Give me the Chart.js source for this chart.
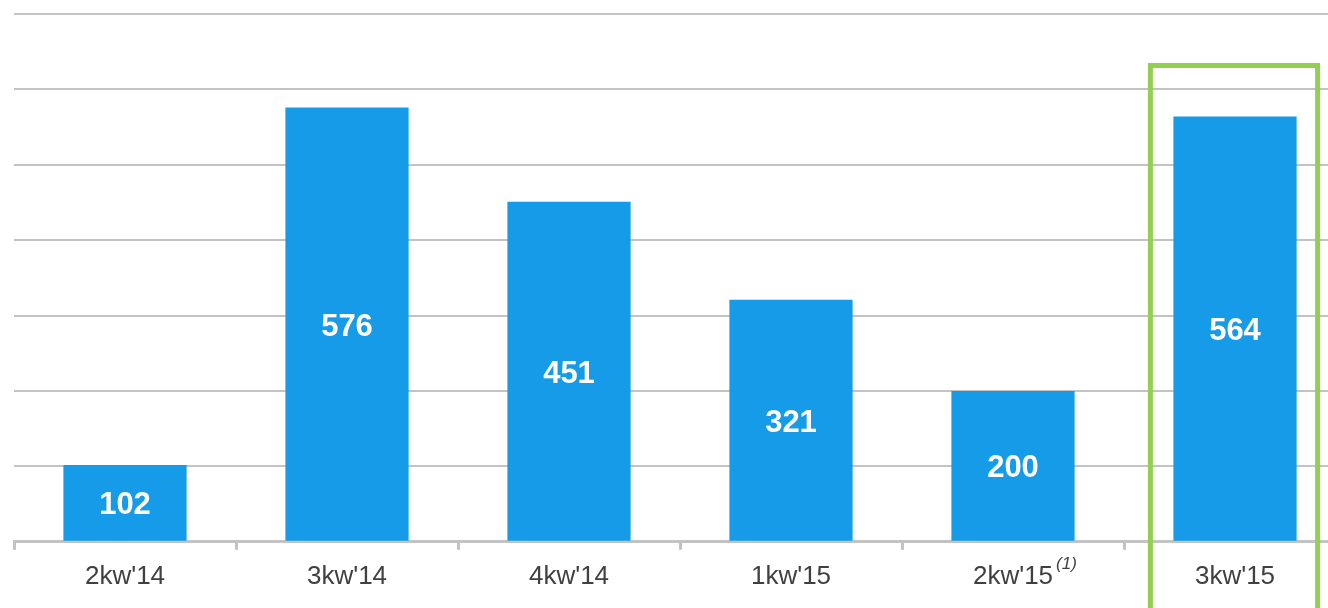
<!DOCTYPE html>
<html>
<head>
<meta charset="utf-8">
<script src="https://cdn.jsdelivr.net/npm/chart.js@4/dist/chart.umd.min.js"></script>
<style>
    html, body { margin: 0; padding: 0; background: #fff; overflow: hidden; }
    #wrap { position: relative; width: 1346px; height: 608px; }
</style>
</head>
<body>
<div id="wrap"><canvas id="chart"></canvas></div>
<script>
'use strict';

var quarters = ["2kw'14", "3kw'14", "4kw'14", "1kw'15", "2kw'15", "3kw'15"];
var values = [102, 576, 451, 321, 200, 564];
var footnotes = ['', '', '', '', '(1)', ''];
var highlightIndex = 5;
var highlightTop = 635;

var barColor = '#169be9';
var gridColor = '#c3c3c3';
var textColor = '#404040';
var boxColor = '#92d050';
var fontFamily = '"Liberation Sans", Arial, sans-serif';
var tickFontSize = 26;

// value labels inside the bars
var valueLabels = {
    id: 'valueLabels',
    afterDatasetsDraw: function(chart) {
        var ctx = chart.ctx;
        var meta = chart.getDatasetMeta(0);
        ctx.save();
        ctx.fillStyle = '#ffffff';
        ctx.font = 'bold 31px ' + fontFamily;
        ctx.textAlign = 'center';
        ctx.textBaseline = 'middle';
        meta.data.forEach(function(bar, i) {
            var mid = (bar.y + bar.base) / 2;
            ctx.fillText(String(values[i]), bar.x, mid + 3);
        });
        ctx.restore();
    }
};

// superscript footnotes after tick labels + highlight box
var extras = {
    id: 'extras',
    afterDraw: function(chart) {
        var ctx = chart.ctx;
        var x = chart.scales.x;
        var y = chart.scales.y;
        ctx.save();
        var labelY = x.top + 8 + 11 + tickFontSize * 0.6;
        footnotes.forEach(function(note, i) {
            if (!note) return;
            ctx.font = tickFontSize + 'px ' + fontFamily;
            var w = ctx.measureText(quarters[i]).width;
            var cx = x.getPixelForValue(i);
            ctx.font = 'italic 17px ' + fontFamily;
            ctx.fillStyle = textColor;
            ctx.textAlign = 'left';
            ctx.textBaseline = 'middle';
            ctx.fillText(note, cx + w / 2 + 3, labelY - 12);
        });

        // green frame around the latest quarter
        var meta = chart.getDatasetMeta(0);
        var bar = meta.data[highlightIndex];
        var half = bar.width / 2 + 21;
        var top = y.getPixelForValue(highlightTop);
        ctx.strokeStyle = boxColor;
        ctx.lineWidth = 5;
        ctx.strokeRect(bar.x - half - 2, top + 2.5, half * 2 + 2, chart.height);
        ctx.restore();
    }
};

new Chart(document.getElementById('chart'), {
    type: 'bar',
    data: {
        labels: quarters,
        datasets: [{
            data: values,
            backgroundColor: barColor,
            borderWidth: 0,
            barPercentage: 0.555,
            categoryPercentage: 1
        }]
    },
    options: {
        responsive: true,
        maintainAspectRatio: false,
        animation: false,
        layout: { padding: { left: 14, top: 14, right: 0, bottom: 5 } },
        plugins: {
            legend: { display: false },
            tooltip: { enabled: false }
        },
        scales: {
            x: {
                grid: {
                    offset: true,
                    drawOnChartArea: false,
                    drawTicks: true,
                    tickLength: 8,
                    color: gridColor,
                    lineWidth: 3
                },
                border: { display: true, color: gridColor, width: 3 },
                ticks: {
                    color: textColor,
                    padding: 11,
                    font: { family: fontFamily, size: tickFontSize }
                }
            },
            y: {
                min: 0,
                max: 700,
                ticks: { display: false, stepSize: 100 },
                grid: { color: gridColor, lineWidth: 2, drawTicks: false },
                border: { display: false }
            }
        }
    },
    plugins: [valueLabels, extras]
});
</script>
</body>
</html>
